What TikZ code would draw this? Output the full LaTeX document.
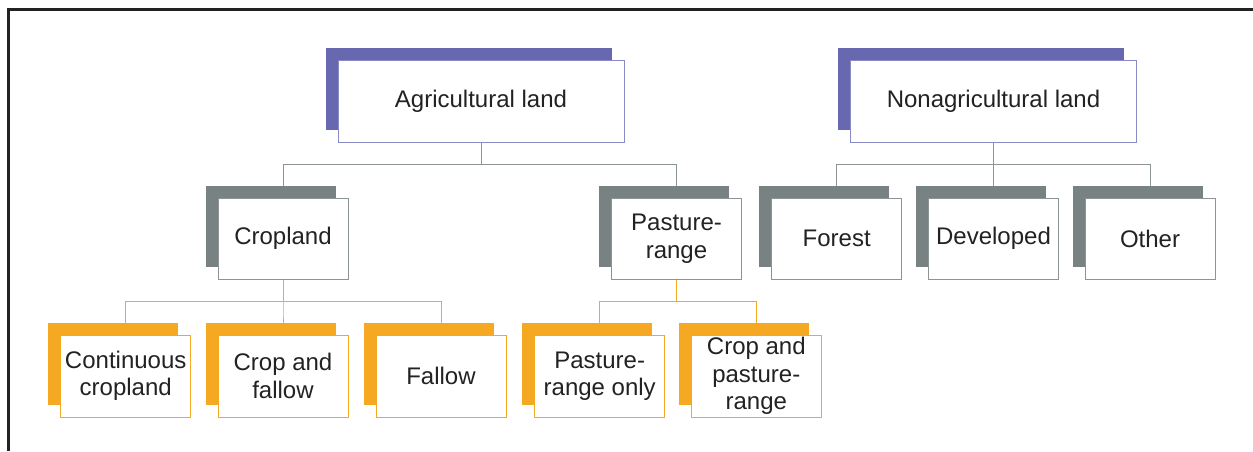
\documentclass[tikz,border=0pt]{standalone}
\usepackage{fontspec}
\setmainfont{Liberation Sans}
\usetikzlibrary{positioning,shadows,backgrounds}
\definecolor{agripurple}{HTML}{6868B0}
\definecolor{agriline}{HTML}{8A8AC6}
\definecolor{landgray}{HTML}{788282}
\definecolor{landline}{HTML}{8C9595}
\definecolor{cropgold}{HTML}{F5A822}
\definecolor{framegray}{HTML}{222222}
\definecolor{textgray}{HTML}{222222}

\begin{document}
\begin{tikzpicture}[x=1pt,y=-1pt,node distance=137.5pt,on grid,
	box/.style={draw,fill=white,line width=1pt,align=center,inner sep=0pt,text=textgray,font=\fontsize{24}{27.5}\selectfont},
	topbox/.style={box,draw=agriline,minimum width=286pt,minimum height=82pt,general shadow={fill=agripurple,shadow xshift=-12.5pt,shadow yshift=12.5pt}},
	midbox/.style={box,draw=landline,minimum width=130pt,minimum height=81pt,general shadow={fill=landgray,shadow xshift=-12.5pt,shadow yshift=12.5pt}},
	lowbox/.style={box,draw=cropgold,minimum width=130pt,minimum height=82pt,general shadow={fill=cropgold,shadow xshift=-12.5pt,shadow yshift=12.5pt}}]
				  \useasboundingbox (0,0) rectangle (1253,451);
				  \draw[framegray,line width=3pt] (8.7,451) -- (8.7,9.5) -- (1253,9.5);

				  \node[topbox]         (agri)     at (481,101)    {Agricultural land};
				  \node[topbox]         (nonagri)  at (993.5,101)  {Nonagricultural land};
				  \node[midbox]         (cropland) [below left =137.5pt and 198pt of agri]     {Cropland};
				  \node[midbox]         (pasture)  [below right =137.5pt and 195.5pt of agri]  {Pasture-\\range};
				  \node[midbox]         (forest)   [below left =137.5pt and 156.8pt of nonagri] {Forest};
				  \node[midbox]         (developed) [below =of nonagri]                      {Developed};
				  \node[midbox]         (other)    [below right =137.5pt and 156.5pt of nonagri] {Other};
				  \node[lowbox]         (contcrop) [below left =137.5pt and 157.3pt of cropland] {Continuous\\cropland};
				  \node[lowbox]         (cropfallow) [below =of cropland]                     {Crop and\\fallow};
				  \node[lowbox]         (fallow)   [below right =137.5pt and 158pt of cropland]  {Fallow};
				  \node[lowbox]         (pasonly)  [below left =137.5pt and 76.8pt of pasture]   {Pasture-\\range only};
				  \node[lowbox]         (croppas)  [below right =137.5pt and 79.8pt of pasture]  {Crop and\\pasture-\\range};

				\begin{scope}[on background layer]
				\tikzset{elbow/.style={line width=1pt,to path={-- ++(0,21.75) -| (\tikztotarget)}}}
				\path (agri.south)     edge [elbow,landline]    (cropland.north)
					  (agri.south)     edge [elbow,landline]    (pasture.north)
					  (nonagri.south)  edge [elbow,landline]    (forest.north)
					  (nonagri.south)  edge [elbow,landline]    (developed.north)
					  (nonagri.south)  edge [elbow,landline]    (other.north)
					  (cropland.south) edge [elbow,cropgold]    (contcrop.north)
					  (cropland.south) edge [elbow,cropgold]    (cropfallow.north)
					  (cropland.south) edge [elbow,cropgold]    (fallow.north)
					  (pasture.south)  edge [elbow,cropgold]    (pasonly.north)
					  (pasture.south)  edge [elbow,cropgold]    (croppas.north);
				\end{scope}
			\end{tikzpicture}
\end{document}
